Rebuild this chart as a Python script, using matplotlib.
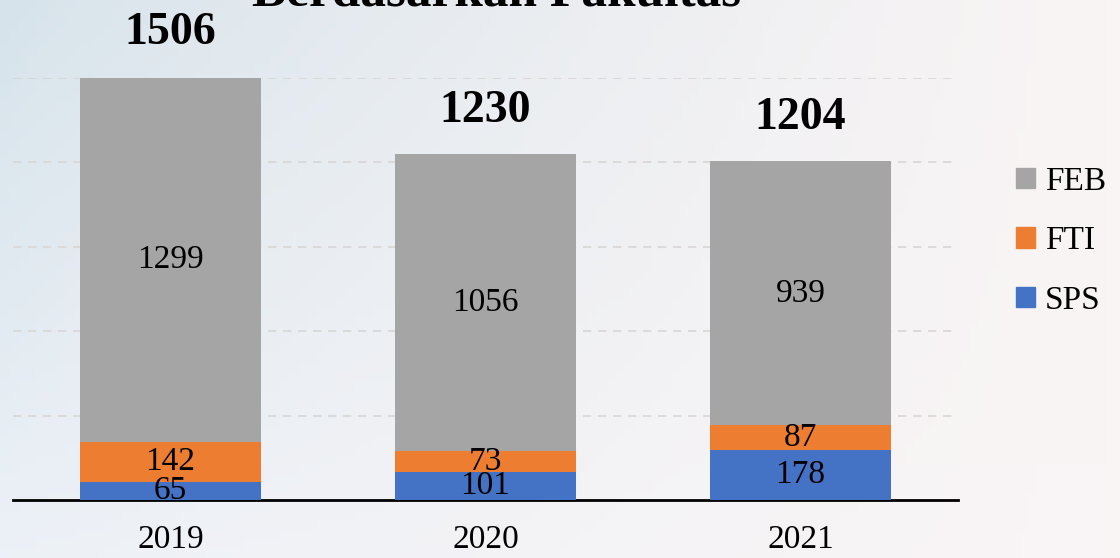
import numpy as np
import matplotlib
matplotlib.use("Agg")
import matplotlib.pyplot as plt
from matplotlib.patches import Patch

years = ["2019", "2020", "2021"]
sps = [65, 101, 178]
fti = [142, 73, 87]
feb = [1299, 1056, 939]
totals = [1506, 1230, 1204]

colors = {"SPS": "#4472C4", "FTI": "#ED7D31", "FEB": "#A5A5A5"}

plt.rcParams["font.family"] = ["Liberation Serif", "DejaVu Serif"]

fig = plt.figure(figsize=(11.2, 5.58), dpi=100)

# soft background gradient
bg = fig.add_axes([0, 0, 1, 1], zorder=-10)
h, w = 60, 120
xx = np.linspace(0, 1, w)[None, :]
yy = np.linspace(0, 1, h)[:, None]
left_top = np.array([214, 227, 235]) / 255
left_bot = np.array([236, 241, 247]) / 255
right = np.array([250, 245, 245]) / 255
leftcol = left_top[None, None, :] * (1 - yy[..., None]) + left_bot[None, None, :] * yy[..., None]
img = leftcol * (1 - xx[..., None] ** 0.8) + right[None, None, :] * (xx[..., None] ** 0.8)
bg.imshow(img, aspect="auto", extent=[0, 1, 0, 1])
bg.axis("off")

ax = fig.add_axes([13 / 1120, 1 - 500 / 558, 945 / 1120, 422 / 558])
ax.patch.set_alpha(0)

x = np.arange(len(years))
width = 0.575
b1 = ax.bar(x, sps, width, color=colors["SPS"], zorder=3)
b2 = ax.bar(x, fti, width, bottom=sps, color=colors["FTI"], zorder=3)
bottom2 = [a + b for a, b in zip(sps, fti)]
b3 = ax.bar(x, feb, width, bottom=bottom2, color=colors["FEB"], zorder=3)

for bars, vals in [(b1, sps), (b2, fti), (b3, feb)]:
    ax.bar_label(bars, labels=[str(v) for v in vals], label_type="center",
                 fontsize=24, color="black", zorder=4)

for xi, t in zip(x, totals):
    ax.annotate(str(t), (xi, t), xytext=(0, 23), textcoords="offset points",
                ha="center", va="baseline", fontsize=33, fontweight="bold",
                annotation_clip=False)

ax.set_xlim(-0.5, 2.5)
ax.set_ylim(0, 1500)
ax.set_yticks([300, 600, 900, 1200, 1500])
ax.yaxis.grid(True, color="#d9d6d4", linestyle=(0, (5, 4)), linewidth=1.2, zorder=0)
ax.tick_params(axis="y", left=False, labelleft=False)
ax.tick_params(axis="x", length=0, pad=18, labelsize=24)
ax.set_xticks(x)
ax.set_xticklabels(years)
for s in ["top", "left", "right"]:
    ax.spines[s].set_visible(False)
ax.spines["bottom"].set_color("black")
ax.spines["bottom"].set_linewidth(2)

fig.text(497 / 1120, 1 - 6 / 558, "Berdasarkan Fakultas", ha="center",
         va="baseline", fontsize=37, fontweight="bold")

handles = [Patch(color=colors[k]) for k in ["FEB", "FTI", "SPS"]]
fig.legend(handles, ["FEB", "FTI", "SPS"], loc="upper left",
           bbox_to_anchor=(993 / 1120, 1 - 143 / 558), frameon=False,
           fontsize=24, handlelength=0.55, handleheight=0.55, handletextpad=0.3,
           labelspacing=0.87, borderpad=0.2)

fig.savefig("out.png", dpi=100)
